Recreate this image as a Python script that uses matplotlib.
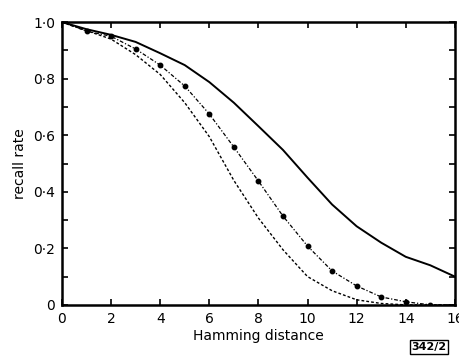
import numpy as np
import matplotlib.pyplot as plt
from matplotlib.ticker import MultipleLocator, FixedLocator

# Hamming distance (integer steps)
hamming = [0, 1, 2, 3, 4, 5, 6, 7, 8, 9, 10, 11, 12, 13, 14, 15, 16]

# recall rate curves
recall_solid = [1.0, 0.975, 0.955, 0.93, 0.89, 0.848, 0.788, 0.715, 0.632,
                0.548, 0.45, 0.355, 0.278, 0.22, 0.17, 0.14, 0.10]
recall_dotted = [1.0, 0.968, 0.95, 0.905, 0.848, 0.774, 0.675, 0.558, 0.438,
                 0.314, 0.208, 0.12, 0.067, 0.028, 0.011, 0.0, 0.0]
recall_dashed = [1.0, 0.97, 0.94, 0.885, 0.815, 0.715, 0.595, 0.44, 0.307,
                 0.195, 0.10, 0.05, 0.018, 0.005, 0.0, 0.0, 0.0]

x_ticks = [0, 2, 4, 6, 8, 10, 12, 14, 16]
y_ticks = [0, 0.2, 0.4, 0.6, 0.8, 1.0]
y_labels = ["0", "0·2", "0·4", "0·6", "0·8", "1·0"]


def main():
    fig = plt.figure(figsize=(4.59, 3.57), dpi=100)
    ax = fig.add_axes([0.135, 0.146, 0.856, 0.792])

    ax.plot(hamming, recall_solid, color="black", lw=1.4)
    ax.plot(hamming, recall_dotted, color="black", lw=0.9, ls=(0, (3, 1.5, 1, 1.5)))
    ax.plot(hamming[1:16], recall_dotted[1:16], ls="none", marker="o",
            ms=3.2, color="black")
    ax.plot(hamming, recall_dashed, color="black", lw=1.0, ls=(0, (2, 1.5)))

    ax.set_xlim(0, 16)
    ax.set_ylim(0, 1.0)
    ax.xaxis.set_major_locator(FixedLocator(x_ticks))
    ax.set_xticklabels([str(t) for t in x_ticks])
    ax.yaxis.set_major_locator(FixedLocator(y_ticks))
    ax.set_yticklabels(y_labels)
    ax.yaxis.set_minor_locator(MultipleLocator(0.1))

    ax.tick_params(which="both", direction="in", top=True, right=True,
                   labelsize=10, width=1.2, pad=5)
    ax.tick_params(which="major", length=4)
    ax.tick_params(which="minor", length=4)
    for s in ax.spines.values():
        s.set_linewidth(1.8)

    ax.set_xlabel("Hamming distance", fontsize=10, labelpad=2)
    ax.set_ylabel("recall rate", fontsize=10, labelpad=4)

    fig.text(0.935, 0.028, "342/2", fontsize=8, fontweight="bold", ha="center",
             va="center", bbox=dict(boxstyle="square,pad=0.15", fc="white",
                                    ec="black", lw=1.0))

    fig.savefig("out.png", dpi=100)


if __name__ == '__main__':
    main()
